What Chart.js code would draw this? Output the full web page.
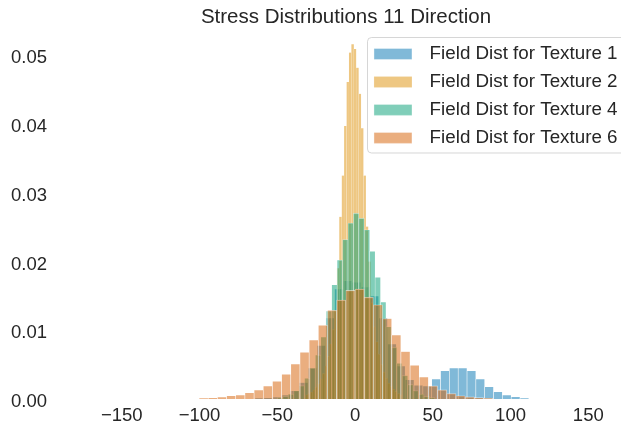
<!DOCTYPE html>
<html><head><meta charset="utf-8">
<script src="https://cdn.jsdelivr.net/npm/chart.js@4.4.1/dist/chart.umd.min.js"></script>
<style>
html,body{margin:0;padding:0;overflow:hidden;background:#fff;width:621px;height:434px}
#wrap{position:relative;width:632px;height:434px}
</style></head>
<body><div id="wrap"><canvas id="c" width="632" height="434"></canvas></div>
<script>
// ---- data ----
const titleText = 'Stress Distributions 11 Direction';
const seriesLabels = ['Field Dist for Texture 1','Field Dist for Texture 2','Field Dist for Texture 4','Field Dist for Texture 6'];
const xTicks = [-150,-100,-50,0,50,100,150];
const yTicks = [0,0.01,0.02,0.03,0.04,0.05];

// Texture 1: first bin edge, bin width, densities
const t1Start = -64.3, t1Width = 5.68;
const t1Density = [0.0001,0.0002,0.0003,0.0006,0.0012,0.0024,0.0045,0.0078,0.0118,0.0160,
  0.0172,0.0170,0.0163,0.0150,0.0118,0.0080,0.0048,0.0028,0.0020,0.0019,
  0.0029,0.0041,0.0045,0.0045,0.0041,0.0029,0.0018,0.00105,0.00057,0.00033,0.00012];

// Texture 2
const t2Start = -31.86, t2Width = 1.554;
const t2Density = [0.0006,0.0008,0.0010,0.0013,0.0017,0.0022,0.0029,0.0037,0.0048,0.0062,
  0.0080,0.0101,0.0128,0.0190,0.0265,0.0325,0.0397,0.0461,0.0504,0.0516,
  0.0509,0.0482,0.0444,0.0394,0.0325,0.0251,0.0200,0.0140,0.0105,0.0083,
  0.0065,0.0050,0.0039,0.0030,0.0023,0.0018,0.0014,0.0011,0.0008,0.0006];

// Texture 4
const t4Start = -49.9, t4Width = 3.49;
const t4Density = [0.0002,0.0004,0.0007,0.0012,0.0019,0.0030,0.0045,0.0064,0.0090,0.0128,
  0.0166,0.0202,0.0232,0.0256,0.0270,0.0263,0.0246,0.0215,0.0177,0.0141,
  0.0105,0.0075,0.0052,0.0034,0.0021,0.0012,0.0007,0.0004,0.0002];

// Texture 6
const t6Start = -100.3, t6Width = 5.9;
const t6Density = [0.0001,0.0002,0.0003,0.00047,0.0006,0.0009,0.0013,0.0019,0.0026,
  0.0036,0.0051,0.0068,0.0086,0.01075,0.0129,0.0144,0.0158,
  0.0160,0.0148,0.0137,0.0117,0.0093,0.0069,0.0049,0.0032,0.0019,0.00133,0.0008,0.00047,0.0003,0.0002,0.0001];

const X_MIN = -189.7, X_MAX = 178.1, Y_MAX = 0.054;

// ---- styling ----
const FONT = "'Liberation Sans', Arial, sans-serif";
const TEXT = '#262626';
const EDGE = 'rgba(255,255,255,0.6)';

function bins(start, width, dens){
  return dens.map((d,i)=>({x: start + (i+0.5)*width, y: d}));
}
function setXTicks(a){ a.ticks = xTicks.map(v=>({value:v})); }
function hiddenX(){
  return {type:'linear', axis:'x', position:'bottom', min:X_MIN, max:X_MAX, offset:false, display:false, afterBuildTicks:setXTicks};
}
function ds(i, data, axisId, color, order, bw){
  return {label: seriesLabels[i], data, xAxisID: axisId, yAxisID:'y',
    backgroundColor: color, borderColor: EDGE, borderWidth: bw,
    barPercentage: 1, categoryPercentage: 1, grouped: false, order};
}

const legendFrame = {
  id: 'legendFrame',
  beforeDraw(chart){
    const lg = chart.legend;
    if (lg){
      lg.left = 364.8; lg.top = 35.4; lg.right = 617.5; lg.bottom = 160;
      lg.width = lg.right - lg.left; lg.height = lg.bottom - lg.top;
    }
    const ctx = chart.ctx;
    const x = 367.5, y = 37.5, w = 300, h = 115.5, r = 4;
    ctx.save();
    ctx.beginPath();
    ctx.moveTo(x + r, y);
    ctx.lineTo(x + w - r, y); ctx.arcTo(x + w, y, x + w, y + r, r);
    ctx.lineTo(x + w, y + h - r); ctx.arcTo(x + w, y + h, x + w - r, y + h, r);
    ctx.lineTo(x + r, y + h); ctx.arcTo(x, y + h, x, y + h - r, r);
    ctx.lineTo(x, y + r); ctx.arcTo(x, y, x + r, y, r);
    ctx.closePath();
    ctx.fillStyle = 'rgba(255,255,255,0.8)';
    ctx.fill();
    ctx.strokeStyle = 'rgba(204,204,204,0.8)';
    ctx.lineWidth = 1;
    ctx.stroke();
    ctx.restore();
  }
};

new Chart(document.getElementById('c'), {
  type: 'bar',
  data: {
    datasets: [
      ds(0, bins(t1Start, t1Width, t1Density), 'x',  'rgba(1,115,178,0.5)', 4, 0.6),
      ds(1, bins(t2Start, t2Width, t2Density), 'x2', 'rgba(222,143,5,0.5)', 3, 0.3),
      ds(2, bins(t4Start, t4Width, t4Density), 'x3', 'rgba(2,158,115,0.5)', 2, 0.5),
      ds(3, bins(t6Start, t6Width, t6Density), 'x4', 'rgba(213,94,0,0.5)', 1, 0.6)
    ]
  },
  options: {
    responsive: false,
    animation: false,
    devicePixelRatio: 1,
    layout: {padding: {left: 0, right: 0, top: 0, bottom: 0.8}},
    scales: {
      x: {type:'linear', position:'bottom', min:X_MIN, max:X_MAX, offset:false,
        grid:{display:false, drawTicks:false}, border:{display:false},
        afterBuildTicks: setXTicks,
        ticks:{padding:6, color:TEXT, font:{family:FONT, size:18.5}, maxRotation:0, autoSkip:false,
          callback: v => (v < 0 ? '\u2212' : '') + Math.abs(v)}},
      x2: hiddenX(), x3: hiddenX(), x4: hiddenX(),
      y: {type:'linear', position:'left', min:0, max:Y_MAX,
        grid:{display:false, drawTicks:false}, border:{display:false},
        afterBuildTicks: a => { a.ticks = yTicks.map(v=>({value:v})); },
        afterFit: a => { a.width = 60; },
        ticks:{padding:13, labelOffset:3, color:TEXT, font:{family:FONT, size:18.5}, callback: v => Number(v).toFixed(2)}}
    },
    plugins: {
      title: {display:true, text:titleText, color:TEXT, fullSize:false,
        font:{family:FONT, size:20.5, weight:'normal', lineHeight:1.05}, padding:{top:6.3, bottom:0}},
      legend: {position:'chartArea', align:'start',
        labels:{boxWidth:38, boxHeight:11, padding:9.17, color:TEXT, textAlign:'right',
          font:{family:FONT, size:18.8},
          sort:(a,b)=>a.datasetIndex - b.datasetIndex}},
      tooltip: {enabled:false}
    }
  },
  plugins: [legendFrame]
});
</script>
</body></html>
